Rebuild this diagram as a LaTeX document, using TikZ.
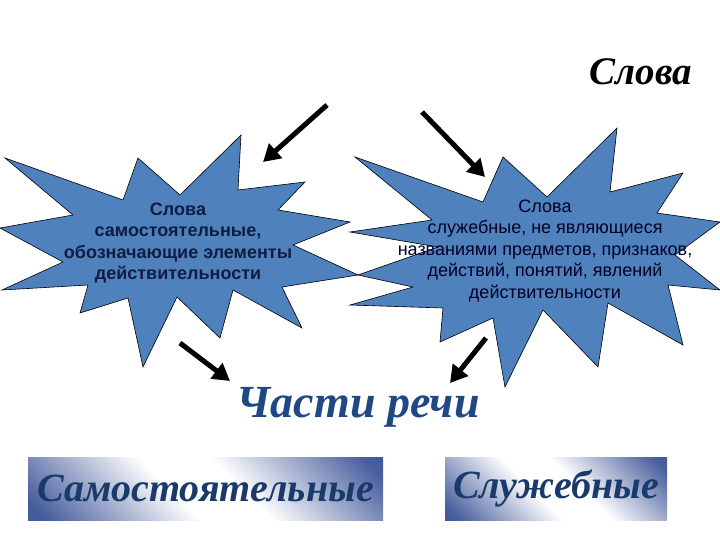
\documentclass[tikz,border=0pt]{standalone}
\usepackage{fontspec}
\setmainfont{Liberation Sans}
\newfontfamily\decofont{Liberation Serif}
\usetikzlibrary{arrows.meta}

\definecolor{starblue}{RGB}{79,129,189}
\definecolor{navy}{RGB}{16,28,66}
\definecolor{partblue}{RGB}{31,72,132}
\definecolor{bandblue}{RGB}{40,66,140}

\pgfdeclarehorizontalshading{band}{100bp}{color(0bp)=(bandblue); color(18bp)=(bandblue!85!white); color(44bp)=(white); color(56bp)=(white); color(82bp)=(bandblue!85!white); color(100bp)=(bandblue)}

\tikzset{star/.style={draw=black, line width=0.6pt, fill=starblue, line join=miter},
  startext/.style={align=center, font=\fontsize{18}{21.5}\selectfont, inner sep=0pt},
  deco/.style={font=\decofont\bfseries\itshape\fontsize{#1}{#1}\selectfont, inner sep=0pt},
  banner/.style={shading=band, shading angle=45, minimum height=63pt, text=partblue!80!black, deco=40},
  arr/.style={line width=5pt, -{Triangle[length=17pt,width=19pt]}}}

\begin{document}
\begin{tikzpicture}[x=1pt,y=-1pt]
    \useasboundingbox (0,0) rectangle (720,540);

    \node[deco=39] (slova) at (641,72) {Слова};

    \draw[star] (5,158) -- (123,200) -- (138,158) -- (180,195) -- (241,135) -- (238,190) -- (305,182) -- (278,210) -- (350,222) -- (293,245) -- (358,275) -- (282,287) -- (302,328) -- (233,290) -- (220,338) -- (177,297) -- (143,367) -- (128,298) -- (80,313) -- (88,285) -- (2,290) -- (63,262) -- (0,228) -- (73,215) -- cycle;
    \node[startext, font=\bfseries\fontsize{18}{21.5}\selectfont, text=navy] (samtext) at (178,243) {Слова\\самостоятельные,\\обозначающие элементы\\действительности};

    \draw[star] (355,157) -- (483,202) -- (503,157) -- (547,197) -- (617,128) -- (610,192) -- (683,173) -- (657,213) -- (720,222) -- (675,255) -- (720,290) -- (668,285) -- (683,345) -- (608,303) -- (598,367) -- (543,310) -- (505,387) -- (493,318) -- (440,342) -- (443,308) -- (350,305) -- (413,287) -- (358,275) -- (438,247) -- (350,232) -- (432,220) -- cycle;
    \node[startext, text=black!85!blue] (sluztext) at (545,251) {Слова\\служебные, не являющиеся\\названиями предметов, признаков,\\действий, понятий, явлений\\действительности};

    \node[deco=46, text=partblue] (chasti) at (358,407) {Части речи};

    \node[banner, minimum width=355pt] (sam) at (205.5,488.5) {Самостоятельные};
    \node[banner, minimum width=222pt] (sluz) at (556,488.5) {Служебные};

    \coordinate (a1) at (327,105); \coordinate (b1) at (263,162);
    \coordinate (a2) at (422,112); \coordinate (b2) at (485,177);
    \coordinate (a3) at (180,343); \coordinate (b3) at (230,381);
    \coordinate (a4) at (486,338); \coordinate (b4) at (450,383);

    \draw[arr] (a1) -- (b1);
    \draw[arr] (a2) -- (b2);
    \draw[arr] (a3) -- (b3);
    \draw[arr] (a4) -- (b4);
\end{tikzpicture}
\end{document}
